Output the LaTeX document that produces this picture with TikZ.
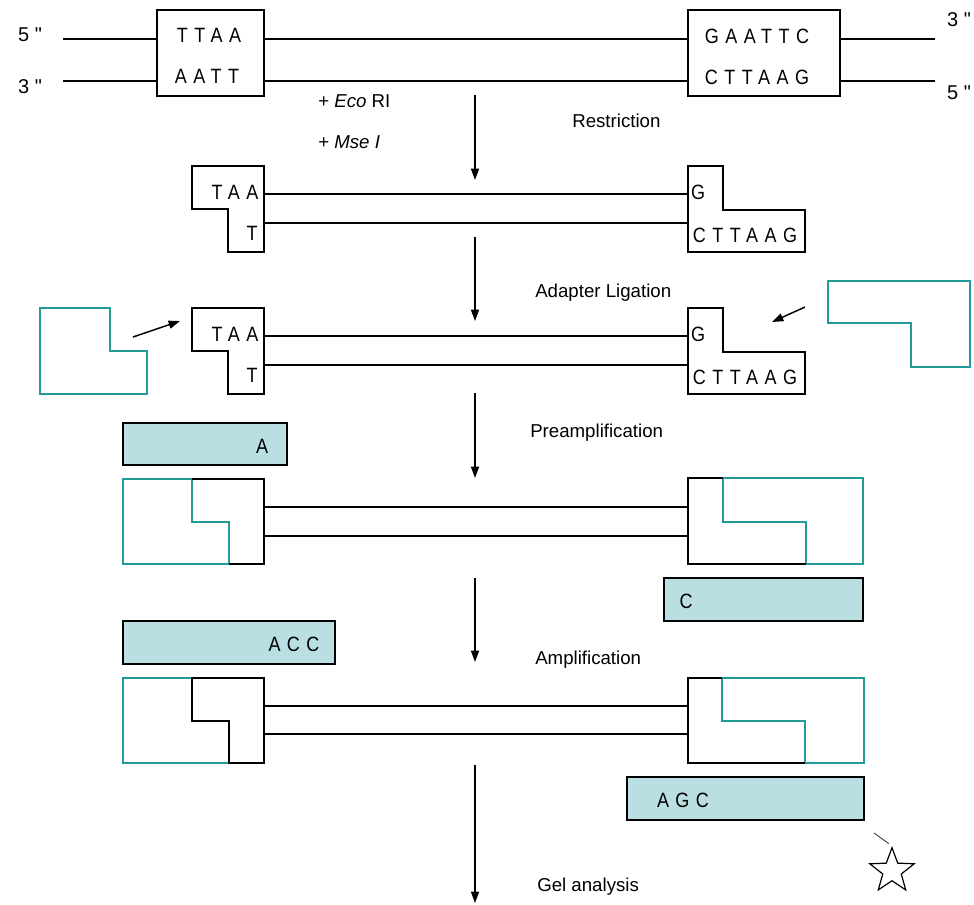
\documentclass[tikz,border=0pt]{standalone}
\usepackage{graphicx}
\usepackage{fontspec}
\setmainfont{Liberation Sans}
\newfontfamily\seqfont[LetterSpace=36]{Liberation Sans}
\newfontfamily\endfont[Ligatures=TeXOff]{Liberation Sans}
\usetikzlibrary{arrows.meta,shapes.geometric,calc}
\definecolor{adaptercol}{RGB}{35,155,152}
\definecolor{primerfill}{RGB}{186,223,226}
% bases are set slightly taller than wide
\newcommand{\bases}[1]{\scalebox{1}[1.15]{#1}}

\begin{document}
\begin{tikzpicture}[x=0.75pt,y=-0.75pt,
  strand/.style={line width=1.3pt},
  frag/.style={draw=black,line width=1.3pt},
  adapt/.style={draw=adaptercol,line width=1.3pt},
  primer/.style={draw=black,fill=primerfill,line width=1.3pt},
  flow/.style={-{Triangle[length=8.5pt,width=6pt]},line width=1.1pt},
  seq/.style={font=\seqfont\fontsize{13.5}{16}\selectfont,inner sep=0pt},
  lbl/.style={font=\fontsize{14}{17}\selectfont,inner sep=0pt,anchor=west},
  endlbl/.style={font=\endfont\fontsize{15}{18}\selectfont,inner sep=0pt},
]
\useasboundingbox (0,0) rectangle (974,904);

% ---------- genomic DNA with the two restriction sites ----------
\draw[frag] (157,10) rectangle (264,96);
\draw[frag] (688,10) rectangle (840,96);
\coordinate (t0) at (63,39);  \coordinate (t1) at (157,39);
\coordinate (t2) at (264,39); \coordinate (t3) at (688,39);
\coordinate (t4) at (840,39); \coordinate (t5) at (935,39);
\coordinate (b0) at (63,81);  \coordinate (b1) at (157,81);
\coordinate (b2) at (264,81); \coordinate (b3) at (688,81);
\coordinate (b4) at (840,81); \coordinate (b5) at (935,81);
\draw[strand] (t0) -- (t1) (t2) -- (t3) (t4) -- (t5);
\draw[strand] (b0) -- (b1) (b2) -- (b3) (b4) -- (b5);
\node[seq] (mseTop) at (209,35) {\bases{TTAA}};
\node[seq] (mseBot) at (207,76) {\bases{AATT}};
\node[seq] (ecoTop) at (757,36) {\bases{GAATTC}};
\node[seq] (ecoBot) at (757,77) {\bases{CTTAAG}};
\node[endlbl] (endTL) at (30,35) {5 "};
\node[endlbl] (endBL) at (30,87) {3 "};
\node[endlbl] (endTR) at (959,20) {3 "};
\node[endlbl] (endBR) at (959,93) {5 "};
\node[lbl] (enz1) at (318,101) {+ \textit{Eco} RI};
\node[lbl] (enz2) at (318,142) {+ \textit{Mse I}};

% ---------- step labels ----------
\node[lbl] (restr) at (572,121) {Restriction};
\node[lbl] (ligat) at (535,293) {Adapter Ligation};
\node[lbl] (preamp) at (530,433) {Preamplification};
\node[lbl] (amp) at (535,660) {Amplification};
\node[lbl] (gel) at (537,887) {Gel analysis};

% ---------- process arrows ----------
\coordinate (a1s) at (475,95);  \coordinate (a1e) at (475,180);
\coordinate (a2s) at (475,237); \coordinate (a2e) at (475,321);
\coordinate (a3s) at (475,393); \coordinate (a3e) at (475,478);
\coordinate (a4s) at (475,578); \coordinate (a4e) at (475,662);
\coordinate (a5s) at (475,765); \coordinate (a5e) at (475,903);
\foreach \s/\e in {a1s/a1e,a2s/a2e,a3s/a3e,a4s/a4e,a5s/a5e}
  \draw[flow] (\s) -- (\e);

% ---------- restriction fragment ----------
\draw[frag] (192,166) -- (264,166) -- (264,252) -- (228,252) -- (228,209) -- (192,209) -- cycle;
\draw[frag] (688,166) -- (723,166) -- (723,210) -- (805,210) -- (805,252) -- (688,252) -- cycle;
\coordinate (r1a) at (264,194); \coordinate (r1b) at (688,194);
\coordinate (r2a) at (264,223); \coordinate (r2b) at (688,223);
\draw[strand] (r1a) -- (r1b) (r2a) -- (r2b);
\node[seq] (fTAA) at (235,192) {\bases{TAA}};
\node[seq] (fT) at (252,233) {\bases{T}};
\node[seq] (fG) at (698,192) {\bases{G}};
\node[seq] (fCTTAAG) at (745,235) {\bases{CTTAAG}};

% ---------- adapter ligation ----------
\draw[frag] (192,308) -- (264,308) -- (264,394) -- (228,394) -- (228,351) -- (192,351) -- cycle;
\draw[frag] (688,308) -- (723,308) -- (723,352) -- (805,352) -- (805,394) -- (688,394) -- cycle;
\coordinate (l1a) at (264,336); \coordinate (l1b) at (688,336);
\coordinate (l2a) at (264,365); \coordinate (l2b) at (688,365);
\draw[strand] (l1a) -- (l1b) (l2a) -- (l2b);
\node[seq] (gTAA) at (235,334) {\bases{TAA}};
\node[seq] (gT) at (252,375) {\bases{T}};
\node[seq] (gG) at (698,334) {\bases{G}};
\node[seq] (gCTTAAG) at (745,377) {\bases{CTTAAG}};
\draw[adapt] (40,308) -- (110,308) -- (110,351) -- (147,351) -- (147,394) -- (40,394) -- cycle;
\draw[adapt] (828,281) -- (970,281) -- (970,367) -- (911,367) -- (911,323) -- (828,323) -- cycle;
\coordinate (adL) at (133,337); \coordinate (adLe) at (180,321);
\coordinate (adR) at (805,307); \coordinate (adRe) at (772,322);
\draw[flow] (adL) -- (adLe);
\draw[flow] (adR) -- (adRe);

% ---------- preamplification ----------
\draw[primer] (123,423) rectangle (287,465);
\node[seq] (pA) at (262,446) {\bases{A}};
\draw[adapt] (123,479) -- (192,479) -- (192,522) -- (229,522) -- (229,564) -- (123,564) -- cycle;
\draw[frag] (192,479) -- (264,479) -- (264,564) -- (229,564);
\draw[adapt] (723,478) -- (863,478) -- (863,564) -- (806,564) -- (806,522) -- (723,522) -- cycle;
\draw[frag] (723,478) -- (688,478) -- (688,564) -- (806,564);
\coordinate (p1a) at (264,507); \coordinate (p1b) at (688,507);
\coordinate (p2a) at (264,536); \coordinate (p2b) at (688,536);
\draw[strand] (p1a) -- (p1b) (p2a) -- (p2b);
\draw[primer] (664,578) rectangle (863,621);
\node[seq] (pC) at (686,601) {\bases{C}};

% ---------- selective amplification ----------
\draw[primer] (123,621) rectangle (335,664);
\node[seq] (pACC) at (294,644) {\bases{ACC}};
\draw[adapt] (192,678) -- (123,678) -- (123,763) -- (229,763);
\draw[frag] (192,678) -- (264,678) -- (264,763) -- (229,763) -- (229,721) -- (192,721) -- cycle;
\draw[adapt] (722,678) -- (864,678) -- (864,763) -- (805,763) -- (805,721) -- (722,721) -- cycle;
\draw[frag] (722,678) -- (688,678) -- (688,763) -- (805,763);
\coordinate (m1a) at (264,706); \coordinate (m1b) at (688,706);
\coordinate (m2a) at (264,734); \coordinate (m2b) at (688,734);
\draw[strand] (m1a) -- (m1b) (m2a) -- (m2b);
\draw[primer] (627,777) rectangle (864,820);
\node[seq] (pAGC) at (683,800) {\bases{AGC}};

% ---------- labelled primer mark ----------
\node[star,star points=5,star point ratio=2.4,draw,line width=0.9pt,
      minimum size=35pt,inner sep=0pt] (mark) at (892,871) {};
\coordinate (markTail) at (874,833);
\draw[line width=0.7pt,black!75] (markTail) -- ($(mark.north)!0.18!(markTail)$);
\end{tikzpicture}
\end{document}
